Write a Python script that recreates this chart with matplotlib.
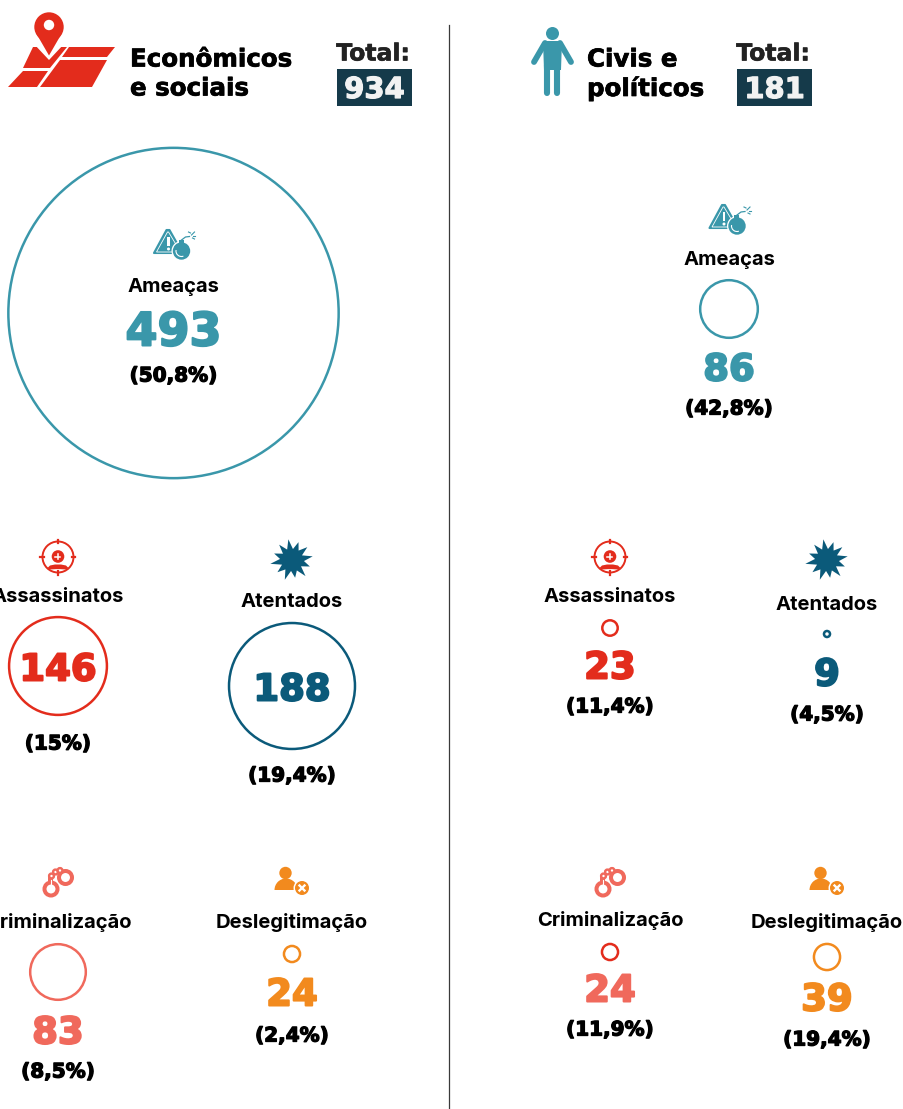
import numpy as np
import matplotlib
matplotlib.use("Agg")
import matplotlib.pyplot as plt
import matplotlib.patheffects as pe
from matplotlib.patches import Circle, Polygon, Rectangle, Wedge, Arc

# ---- data ----
categories = ["Ameaças", "Assassinatos", "Atentados", "Criminalização", "Deslegitimação"]
econ_values = [493, 146, 188, 83, 24]
econ_pct = ["(50,8%)", "(15%)", "(19,4%)", "(8,5%)", "(2,4%)"]
civil_values = [86, 23, 9, 24, 39]
civil_pct = ["(42,8%)", "(11,4%)", "(4,5%)", "(11,9%)", "(19,4%)"]
totals = [934, 181]

# ---- styles / layout ----
TEAL, RED, NAVY, SALMON, ORANGE = "#3a97aa", "#e32c1c", "#0b5a7a", "#f0695c", "#f28a1e"
colors = [TEAL, RED, NAVY, SALMON, ORANGE]
econ_ring = [TEAL, RED, NAVY, SALMON, ORANGE]
civil_ring = [TEAL, RED, NAVY, RED, ORANGE]
K = 0.335  # circle radius in px per unit
LBL = "Inter"
NUM = "DejaVu Sans"
# x, icon_y, label_y, circle_y, number_y, pct_y, number_size
econ_layout = [(173.5, 243, 285, 313, 329, 375, 46), (58, 557, 595, 666, 667, 743, 37),
               (292, 560, 600, 686, 687, 775, 37), (58, 881, 921, 972, 1030, 1071, 37),
               (292, 880, 920, 954, 992, 1035, 37)]
civil_layout = [(729, 218, 258, 309, 367, 408, 37), (610, 557, 595, 628, 665, 706, 37),
                (827, 560, 603, 634, 672, 714, 37), (610, 881, 918, 952, 988, 1029, 37),
                (827, 880, 921, 957, 997, 1039, 37)]

fig = plt.figure(figsize=(9.04, 11.09), dpi=100, facecolor="white")
ax = fig.add_axes([0, 0, 1, 1])
ax.set_xlim(0, 904)
ax.set_ylim(1109, 0)
ax.axis("off")
px = 0.72


def T(x, y, s, size, color="black", family=LBL, weight="bold", ha="center", stroke=0):
    t = ax.text(x, y, s, fontsize=size * px, color=color, family=family, weight=weight, ha=ha,
                va="center_baseline", zorder=8)
    if stroke:
        t.set_path_effects([pe.withStroke(linewidth=stroke * px, foreground=color)])


def P(pts, color, z=3):
    ax.add_patch(Polygon(pts, closed=True, fc=color, ec="none", zorder=z))


def C(x, y, r, fc, ec="none", lw=0, z=3):
    ax.add_patch(Circle((x, y), r, fc=fc, ec=ec, lw=lw, zorder=z))


def icon_bomb(x, y):
    ax.add_patch(Polygon([(x - 19.5, y + 10), (x - 7, y - 13), (x - 4, y - 13), (x + 9, y + 10)], closed=True,
                         fc=TEAL, ec=TEAL, lw=1.5, joinstyle="round", zorder=3))
    ax.add_patch(Polygon([(x - 17, y + 9), (x - 6, y - 11), (x - 5, y - 11), (x + 7, y + 9)], closed=True,
                         fc="none", ec="white", lw=0.6, zorder=4))
    ax.add_patch(Rectangle((x - 6.3, y - 6), 2.6, 9, fc="white", ec="none", zorder=4))
    C(x - 5, y + 6, 1.5, "white", z=4)
    C(x + 8, y + 8, 10, "white", z=5)
    C(x + 8, y + 8, 8.7, TEAL, z=6)
    ax.add_patch(Rectangle((x + 5.5, y - 3), 5, 3.5, fc=TEAL, ec="none", zorder=6))
    ax.add_patch(Arc((x + 8, y + 8), 11, 11, theta1=70, theta2=190, ec="white", lw=0.8, zorder=7))
    ax.plot([x + 8, x + 12, x + 16], [y - 3, y - 6, y - 6.5], color=TEAL, lw=0.9, zorder=4)
    for a, b, c, d in [(18, -8, 21, -11), (20, -7, 22, -7), (19, -5, 21, -4), (15, -11, 17, -10)]:
        ax.plot([x + a, x + c], [y + b, y + d], color=TEAL, lw=0.8, zorder=4)


def icon_target(x, y):
    ax.add_patch(Circle((x, y), 15.5, fc="none", ec=RED, lw=1.4, zorder=3))
    for dx, dy in [(0, -1), (0, 1), (-1, 0), (1, 0)]:
        ax.plot([x + 14 * dx, x + 17.5 * dx], [y + 14 * dy, y + 17.5 * dy], color=RED, lw=1.6, zorder=3)
    C(x, y - 0.5, 6.3, RED)
    ax.plot([x - 2.5, x + 2.5], [y - 0.5, y - 0.5], color="white", lw=1.1, zorder=4)
    ax.plot([x, x], [y - 3, y + 2], color="white", lw=1.1, zorder=4)
    P([(x - 10.5, y + 11), (x - 8, y + 8.5), (x - 3, y + 7.5), (x + 3, y + 7.5), (x + 8, y + 8.5), (x + 10.5, y + 11),
       (x + 8, y + 12.5), (x, y + 12), (x - 8, y + 12.5)], RED)


def icon_star(x, y, color=NAVY):
    radii = [21, 11, 19, 11.5, 20, 11, 21, 12, 19, 11, 21, 11.5, 18, 11, 21, 11.5, 19, 11, 22, 12, 19, 11, 20, 11.5]
    ang = np.deg2rad(np.arange(24) * 15 - 100)
    P([(x + r * np.cos(a), y + r * np.sin(a)) for r, a in zip(radii, ang)], color)


def icon_cuffs(x, y):
    ax.add_patch(Circle((x - 7, y + 8), 6.5, fc="white", ec=SALMON, lw=4 * px, zorder=3))
    ax.add_patch(Circle((x + 7.5, y - 3.5), 6.5, fc="white", ec=SALMON, lw=4 * px, zorder=3))
    ax.add_patch(Rectangle((x - 9.5, y - 4), 5, 7, fc=SALMON, ec="none", zorder=3))
    ax.plot([x - 7, x - 7], [y - 1, y + 3], color="white", lw=0.8, zorder=4)
    ax.add_patch(Circle((x - 6.5, y - 5), 2.4, fc="white", ec=SALMON, lw=2.4 * px, zorder=3))
    ax.add_patch(Circle((x - 2.5, y - 9), 2.4, fc="white", ec=SALMON, lw=2.4 * px, zorder=3))
    ax.add_patch(Circle((x + 2, y - 10.5), 2.4, fc="white", ec=SALMON, lw=2.4 * px, zorder=3))


def icon_person_x(x, y):
    C(x - 6.5, y - 7, 6.2, ORANGE)
    ax.add_patch(Wedge((x - 6, y + 10), 11.5, 180, 360, fc=ORANGE, ec="none", zorder=3))
    C(x + 10, y + 8, 8.5, "white", z=4)
    C(x + 10, y + 8, 7, ORANGE, z=5)
    ax.plot([x + 7.5, x + 12.5], [y + 5.5, y + 10.5], color="white", lw=1.7, zorder=6)
    ax.plot([x + 7.5, x + 12.5], [y + 10.5, y + 5.5], color="white", lw=1.7, zorder=6)


icons = [icon_bomb, icon_target, icon_star, icon_cuffs, icon_person_x]


def panel(values, pct, layout, rings):
    for i, (v, p, l) in enumerate(zip(values, pct, layout)):
        x, iy, ly, cy, ny, py, ns = l
        icons[i](x, iy)
        T(x, ly, categories[i], 20.2)
        ax.add_patch(Circle((x, cy), v * K, fc="none", ec=rings[i], lw=2.5 * px, zorder=2))
        T(x, ny - 1, str(v), ns, color=colors[i], family=NUM, weight="heavy", stroke=2)
        T(x, py - 1, p, 20, family=NUM, weight="heavy", stroke=1.3)


panel(econ_values, econ_pct, econ_layout, econ_ring)
panel(civil_values, civil_pct, civil_layout, civil_ring)

# divider
ax.plot([449.5, 449.5], [25, 1109], color="#3a3a3a", lw=0.9, zorder=1)

# header left: map + pin
for pts in [[(33, 47), (67, 47), (50, 68), (23, 68)], [(69, 47), (115, 47), (107, 57), (62, 57)],
            [(60, 60), (107, 60), (92, 87), (40, 87)], [(23, 71), (48, 71), (37, 87), (8, 87)]]:
    P(pts, RED)
P([(34, 44), (49, 60), (64, 44), (49, 35)], "white", z=4)
P([(36, 33), (49, 55.5), (62, 33)], RED, z=5)
C(49, 27, 14.7, RED, z=5)
C(49, 25, 5.2, "white", z=6)
T(130, 57, "Econômicos", 24.5, family=NUM, ha="left", stroke=0.7)
T(130, 86, "e sociais", 24.5, family=NUM, ha="left", stroke=0.7)

# header right: person
C(552.5, 33.5, 6.5, TEAL)
P([(543, 41), (562, 41), (561, 70), (544, 70)], TEAL)
ax.plot([545, 534], [43, 62], color=TEAL, lw=4.2, solid_capstyle="round", zorder=3)
ax.plot([560, 571], [43, 62], color=TEAL, lw=4.2, solid_capstyle="round", zorder=3)
ax.plot([547.5, 547.5], [65, 93], color=TEAL, lw=4.4, solid_capstyle="round", zorder=3)
ax.plot([557.5, 557.5], [65, 93], color=TEAL, lw=4.4, solid_capstyle="round", zorder=3)
T(587, 57, "Civis e", 24.5, family=NUM, ha="left", stroke=0.7)
T(587, 86, "políticos", 24.5, family=NUM, ha="left", stroke=0.7)

for x0, tot in zip([337, 737], totals):
    T(x0 + 36, 51.5, "Total:", 23.5, color="#222222", family=NUM, weight="bold", stroke=0.6)
    ax.add_patch(Rectangle((x0, 69), 75, 37, fc="#153a4a", ec="none", zorder=2))
    T(x0 + 37.5, 87, str(tot), 29, color="#f2f2f2", family=NUM, weight="heavy", stroke=1.2)

fig.savefig("out.png", dpi=100)
